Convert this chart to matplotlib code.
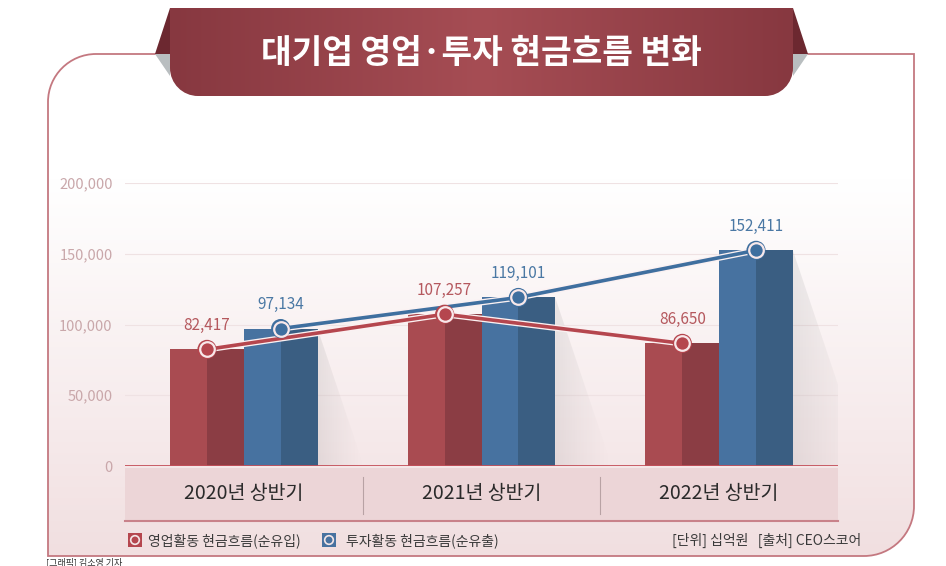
import numpy as np
import matplotlib.pyplot as plt
import matplotlib.patheffects as pe
from matplotlib.path import Path
from matplotlib.patches import PathPatch, Polygon, Rectangle, Circle
from matplotlib.colors import to_rgb

plt.rcParams['font.family'] = ['Noto Sans CJK KR', 'DejaVu Sans']

# data (십억원)
categories = ["2020년 상반기", "2021년 상반기", "2022년 상반기"]
operating = [82417, 107257, 86650]    # 영업활동 현금흐름(순유입)
investing = [97134, 119101, 152411]   # 투자활동 현금흐름(순유출)
series_names = ["영업활동 현금흐름(순유입)", "투자활동 현금흐름(순유출)"]
yticks = [0, 50000, 100000, 150000, 200000]
title = "대기업 영업·투자 현금흐름 변화"
note = "[단위] 십억원   [출처] CEO스코어"

RED, RED_D = "#a94b51", "#8b3d44"
BLUE, BLUE_D = "#4772a0", "#3a5e82"
RED_LINE, BLUE_LINE = "#b5464e", "#3f6f9f"
RED_TXT, BLUE_TXT = "#b5585e", "#4a78a4"

W, H = 946, 566
fig = plt.figure(figsize=(W / 100, H / 100), dpi=100)

# background layer in pixel coordinates
bg = fig.add_axes([0, 0, 1, 1])
bg.set_xlim(0, W)
bg.set_ylim(H, 0)
bg.axis("off")


def rounded_path(x0, y0, x1, y1, r_tl=0, r_tr=0, r_br=0, r_bl=0):
    k = 0.5523
    v, c = [], []
    v.append((x0, y1 - r_bl)); c.append(Path.MOVETO)
    v.append((x0, y0 + r_tl)); c.append(Path.LINETO)
    if r_tl:
        v += [(x0, y0 + r_tl - k * r_tl), (x0 + r_tl - k * r_tl, y0), (x0 + r_tl, y0)]
        c += [Path.CURVE4] * 3
    v.append((x1 - r_tr, y0)); c.append(Path.LINETO)
    if r_tr:
        v += [(x1 - r_tr + k * r_tr, y0), (x1, y0 + r_tr - k * r_tr), (x1, y0 + r_tr)]
        c += [Path.CURVE4] * 3
    v.append((x1, y1 - r_br)); c.append(Path.LINETO)
    if r_br:
        v += [(x1, y1 - r_br + k * r_br), (x1 - r_br + k * r_br, y1), (x1 - r_br, y1)]
        c += [Path.CURVE4] * 3
    v.append((x0 + r_bl, y1)); c.append(Path.LINETO)
    if r_bl:
        v += [(x0 + r_bl - k * r_bl, y1), (x0, y1 - r_bl + k * r_bl), (x0, y1 - r_bl)]
        c += [Path.CURVE4] * 3
    v.append((0, 0)); c.append(Path.CLOSEPOLY)
    return Path(v, c)


def grad(stops, n=300):
    pos = np.linspace(0, 1, n)
    cols = np.array([to_rgb(s[1]) for s in stops])
    ps = [s[0] for s in stops]
    return np.stack([np.interp(pos, ps, cols[:, i]) for i in range(3)], axis=-1)


# frame with vertical gradient
frame = rounded_path(48, 54, 914, 556, r_tl=48, r_br=50)
bg.add_patch(PathPatch(frame, fc="none", ec="#c47880", lw=1.3, transform=bg.transData, zorder=3))
g = grad([(0, "#ffffff"), (0.25, "#ffffff"), (0.75, "#f6eaeb"), (1, "#f1dfe0")])
im = bg.imshow(g[:, None, :], extent=[48, 914, 556, 54], aspect="auto", zorder=1)
im.set_clip_path(PathPatch(frame, transform=bg.transData))

# title banner
bg.add_patch(Polygon([(170, 8), (155, 54), (170, 54)], closed=True, fc="#6c2830", ec="none", zorder=4))
bg.add_patch(Polygon([(793, 8), (808, 54), (793, 54)], closed=True, fc="#6c2830", ec="none", zorder=4))
bg.add_patch(Polygon([(155, 54), (170, 54), (170, 76)], closed=True, fc="#b9bec0", ec="none", zorder=4))
bg.add_patch(Polygon([(808, 54), (793, 54), (793, 76)], closed=True, fc="#b9bec0", ec="none", zorder=4))
banner = rounded_path(170, 8, 793, 96, r_br=28, r_bl=28)
hg = grad([(0, "#873840"), (0.5, "#a64d54"), (1, "#873840")])
bim = bg.imshow(hg[None, :, :], extent=[170, 793, 96, 8], aspect="auto", zorder=5)
bim.set_clip_path(PathPatch(banner, transform=bg.transData))
bg.text(481, 53, title, ha="center", va="center", color="white",
        fontsize=24, fontweight="bold", zorder=6)

# category band under the axis
bg.add_patch(Rectangle((125, 468), 713, 53, fc="#ecd5d7", ec="none", zorder=2))
bg.plot([125, 838], [521, 521], color="#c9828a", lw=1.5, zorder=3)
for xs in (363, 600):
    bg.plot([xs, xs], [477, 514], color="#b8a2a4", lw=0.8, zorder=3)

# legend row
for x0, col, name, tx in [(128, RED_LINE, series_names[0], 148), (322, BLUE, series_names[1], 346)]:
    bg.add_patch(Rectangle((x0, 533), 14, 14, fc=col, ec="none", zorder=3))
    bg.add_patch(Circle((x0 + 7, 540), 4.3, fc="none", ec="#f4e6e7", lw=1.2, zorder=4))
    bg.text(tx, 540.5, name, ha="left", va="center", fontsize=10, color="#3a3a3a", zorder=4)
bg.text(861, 540.5, note, ha="right", va="center", fontsize=10, color="#3a3a3a", zorder=4)
bg.text(46, 557.5, "[그래픽] 김소영 기자", ha="left", va="top", fontsize=6.5, color="#333333", zorder=4)

# main chart
ax = fig.add_axes([125 / W, (H - 466) / H, 713 / W, 283 / H])
ax.set_facecolor("none")
ax.set_zorder(2)
x = np.arange(len(categories))
w = 0.31

for vals, base, c_l, c_d in [(operating, x - w / 2, RED, RED_D), (investing, x + w / 2, BLUE, BLUE_D)]:
    ax.bar(base - w / 4, vals, width=w / 2, color=c_l, zorder=3)
    ax.bar(base + w / 4, vals, width=w / 2, color=c_d, zorder=3)

# soft diagonal shadows right of the blue bars
for xi, v in zip(x, investing):
    xr = xi + w
    dx = v * 2.0e-6
    sh = np.zeros((2, 60, 4))
    sh[..., :3] = 0.5
    sh[..., 3] = 0.15 * (1 - np.linspace(0, 1, 60))[None, :] ** 1.3
    simg = ax.imshow(sh, extent=[xr, xr + dx, 0, v], aspect="auto", zorder=2,
                     interpolation="bilinear")
    simg.set_clip_path(Polygon([(xr, v), (xr + dx, 0), (xr, 0)], closed=True,
                               transform=ax.transData))

halo = [pe.Stroke(linewidth=4.5, foreground="#fbf1f2"), pe.Normal()]
for vals, xs, col, tcol in [(operating, x - w / 2, RED_LINE, RED_TXT), (investing, x + w / 2, BLUE_LINE, BLUE_TXT)]:
    ax.plot(xs, vals, color=col, lw=2.6, zorder=4, path_effects=halo)
    ax.scatter(xs, vals, s=190, color=col, zorder=5, edgecolors="none")
    ax.scatter(xs, vals, s=110, color=col, edgecolors="#f8e8ea", linewidths=1.6, zorder=6)
    for xv, v in zip(xs, vals):
        ax.annotate(f"{v:,}", (xv, v), xytext=(0, 11), textcoords="offset points",
                    ha="center", va="bottom", fontsize=11, color=tcol, zorder=7)

ax.axhline(0, color="#c4505a", lw=2, zorder=4)
ax.set_xlim(-0.5, 2.5)
ax.set_ylim(0, 200000)
ax.set_yticks(yticks)
ax.set_yticklabels([f"{t:,}" for t in yticks], fontsize=10.5, color="#c9a7aa")
ax.set_xticks(x)
ax.set_xticklabels(categories, fontsize=14, color="#2a2a2a")
ax.tick_params(axis="x", length=0, pad=12)
ax.tick_params(axis="y", length=0, pad=9)
ax.grid(axis="y", color="#efe2e3", lw=0.8, zorder=0)
for s in ax.spines.values():
    s.set_visible(False)

fig.savefig("out.png", dpi=100)
